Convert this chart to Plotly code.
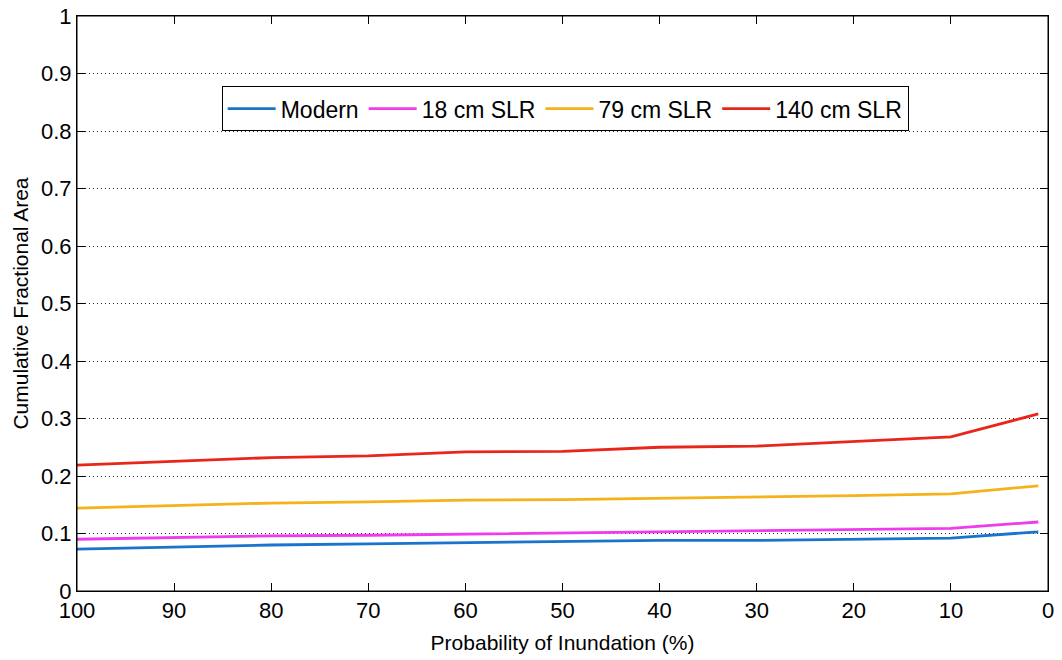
import plotly.graph_objects as go

prob = [100, 90, 80, 70, 60, 50, 40, 30, 20, 10, 1]
modern = [0.073, 0.077, 0.080, 0.082, 0.084, 0.085, 0.088, 0.088, 0.090, 0.092, 0.103]
slr18 = [0.090, 0.093, 0.096, 0.097, 0.099, 0.100, 0.103, 0.104, 0.106, 0.109, 0.120]
slr79 = [0.144, 0.148, 0.153, 0.155, 0.158, 0.159, 0.161, 0.163, 0.166, 0.169, 0.183]
slr140 = [0.219, 0.226, 0.232, 0.235, 0.242, 0.243, 0.250, 0.252, 0.260, 0.268, 0.308]

x_ticks = [100, 90, 80, 70, 60, 50, 40, 30, 20, 10, 0]
y_ticks = [0, 0.1, 0.2, 0.3, 0.4, 0.5, 0.6, 0.7, 0.8, 0.9, 1]
y_labels = ["0", "0.1", "0.2", "0.3", "0.4", "0.5", "0.6", "0.7", "0.8", "0.9", "1"]

series = [
    ("Modern", modern, "#1874CD"),
    ("18 cm SLR", slr18, "#EE3BEE"),
    ("79 cm SLR", slr79, "#F5B21B"),
    ("140 cm SLR", slr140, "#E8261A"),
]

fig = go.Figure()
for name, vals, col in series:
    fig.add_trace(go.Scatter(x=prob, y=vals, mode="lines", name=name,
                             line=dict(color=col, width=2.8)))

ff = "Liberation Sans, Arial, sans-serif"
fig.update_layout(
    width=1062, height=660,
    margin=dict(l=77, r=14, t=16, b=69),
    paper_bgcolor="white", plot_bgcolor="white",
    font=dict(family=ff, color="black", size=21),
    legend=dict(orientation="h", x=0.149, y=0.878, xanchor="left", yanchor="top",
                bordercolor="black", borderwidth=1, bgcolor="white",
                font=dict(size=23, family=ff), itemwidth=48,
                tracegroupgap=0),
    xaxis=dict(range=[100, 0], tickvals=x_ticks,
               ticks="inside", ticklen=8, tickcolor="black", showline=True,
               linecolor="black", linewidth=1, mirror="ticks", showgrid=False,
               zeroline=False, tickfont=dict(size=22), automargin=False,
               ticklabeloverflow="allow",
               title=dict(text="Probability of Inundation (%)", font=dict(size=21), standoff=12)),
    yaxis=dict(range=[0, 1], tickvals=y_ticks, ticktext=y_labels,
               ticks="inside", ticklen=8, tickcolor="black", showline=True,
               linecolor="black", linewidth=1, mirror="ticks", showgrid=True,
               gridcolor="#222222", griddash="1px,3px", gridwidth=1, zeroline=False,
               tickfont=dict(size=22), automargin=False,
               ticklabeloverflow="allow",
               title=dict(text="Cumulative Fractional Area", font=dict(size=21), standoff=6)),
    shapes=[dict(type="rect", xref="paper", yref="paper", x0=0, x1=1, y0=0, y1=1,
                 line=dict(color="black", width=1), layer="above")],
)

fig.write_html("out.html", config={"displayModeBar": False},
               post_script="document.body.style.margin='0';document.body.style.overflow='hidden';")
